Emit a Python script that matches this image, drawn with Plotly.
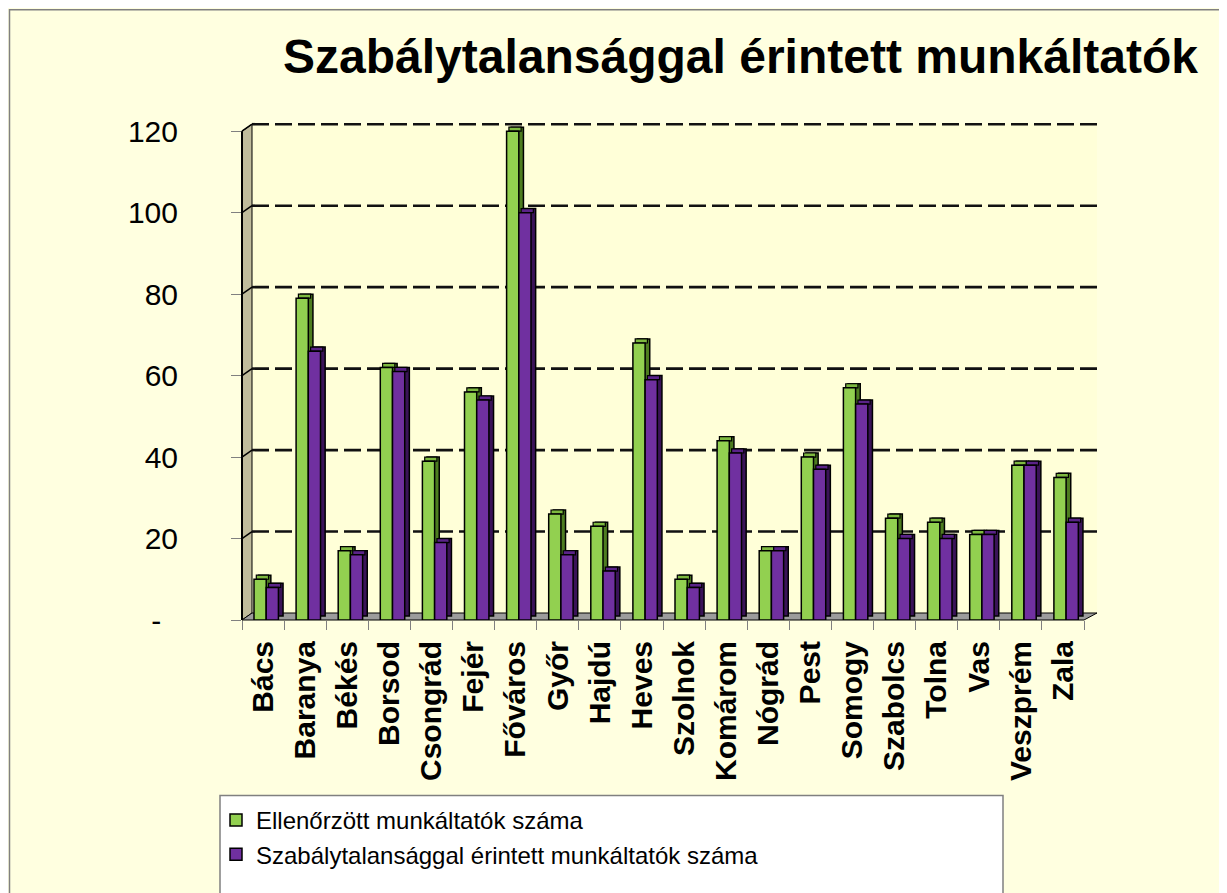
import plotly.graph_objects as go

# ---- data ----
categories = ["Bács", "Baranya", "Békés", "Borsod", "Csongrád", "Fejér", "Főváros",
              "Győr", "Hajdú", "Heves", "Szolnok", "Komárom", "Nógrád", "Pest",
              "Somogy", "Szabolcs", "Tolna", "Vas", "Veszprém", "Zala"]
ellenorzott = [10, 79, 17, 62, 39, 56, 120, 26, 23, 68, 10, 44, 17, 40, 57, 25, 24, 21, 38, 35]
szabalytalan = [8, 66, 16, 61, 19, 54, 100, 16, 12, 59, 8, 41, 17, 37, 53, 20, 20, 21, 38, 24]
series_names = ["Ellenőrzött munkáltatók száma", "Szabálytalansággal érintett munkáltatók száma"]
y_tickvals = [0, 20, 40, 60, 80, 100, 120]
y_ticktext = ["-\u00a0\u00a0", "20", "40", "60", "80", "100", "120"]
title_text = "Szabálytalansággal érintett munkáltatók"

# ---- geometry (pixels, relative to the figure) ----
W_FIG, H_FIG = 1227, 893
L, R, T, B = 234, 1076, 123, 612     # T = pixel of the value Y_MAX
Y_MAX = 120
Y_TOP = 123                           # axis range top (room for the 3D bar tops)
PH = B - T
PW = R - L
T_AREA = B - Y_TOP / Y_MAX * PH       # top of plotting area in pixels
PH_AREA = B - T_AREA
DX_WALL, DY_WALL = 10, 7
DX_RIGHT = 13


def px(x):
    return (x - L) / PW


def py(y):
    return (B - y) / PH_AREA


def val_to_py(v):
    return B - v / Y_MAX * PH


GREEN, GREEN_SIDE, GREEN_TOP = "#92D050", "#4E7D20", "#7DB93F"
PURPLE, PURPLE_SIDE, PURPLE_TOP = "#7030A0", "#3A1358", "#5A2388"
FONT = "Arial, Liberation Sans, sans-serif"

bar_w = 0.29
dx = 0.11
dz = 1.0
offs = [-0.215, 0.075]

fig = go.Figure()
for vals, name, col, scol, tcol, off in [
        (ellenorzott, series_names[0], GREEN, GREEN_SIDE, GREEN_TOP, offs[0]),
        (szabalytalan, series_names[1], PURPLE, PURPLE_SIDE, PURPLE_TOP, offs[1])]:
    fig.add_trace(go.Bar(x=categories, y=vals, base=[dz] * len(vals), offset=off + dx, width=bar_w,
                         marker=dict(color=scol, line=dict(color="black", width=1.5)),
                         showlegend=False, hoverinfo="skip"))
    fig.add_trace(go.Bar(x=categories, y=[dz] * len(vals), base=vals, offset=off + dx * 0.5, width=bar_w,
                         marker=dict(color=tcol, line=dict(color="black", width=1.2)),
                         showlegend=False, hoverinfo="skip"))
    fig.add_trace(go.Bar(x=categories, y=vals, name=name, offset=off, width=bar_w,
                         marker=dict(color=col, line=dict(color="black", width=1.5))))

shapes = []
# outer frame
shapes.append(dict(type="rect", xref="paper", yref="paper", x0=px(1.5), y0=py(1.5), x1=px(1260), y1=py(920),
                   fillcolor="#FFFFE0", line=dict(color="#808080", width=1.5), layer="below"))
# back wall
shapes.append(dict(type="rect", xref="paper", yref="paper", x0=px(L + DX_WALL), x1=px(R + DX_RIGHT),
                   y0=py(B - DY_WALL), y1=py(T - DY_WALL), fillcolor="#FFFFD8", line=dict(width=0), layer="below"))
# left wall
shapes.append(dict(type="path", xref="paper", yref="paper",
                   path=f"M {px(L)},{py(B)} L {px(L)},{py(T)} L {px(L + DX_WALL)},{py(T - DY_WALL)} "
                        f"L {px(L + DX_WALL)},{py(B - DY_WALL)} Z",
                   fillcolor="#C0BC9C", line=dict(color="black", width=1), layer="below"))
# front axis line
shapes.append(dict(type="line", xref="paper", yref="paper", x0=px(L), x1=px(L), y0=py(B), y1=py(T),
                   line=dict(color="black", width=2), layer="below"))
# floor
shapes.append(dict(type="path", xref="paper", yref="paper",
                   path=f"M {px(L)},{py(B)} L {px(R)},{py(B)} L {px(R + DX_RIGHT)},{py(B - DY_WALL)} "
                        f"L {px(L + DX_WALL)},{py(B - DY_WALL)} Z",
                   fillcolor="#9C9C9C", line=dict(color="black", width=1), layer="below"))
# gridlines on back wall
for v in y_tickvals[1:]:
    yp = val_to_py(v)
    shapes.append(dict(type="line", xref="paper", yref="paper",
                       x0=px(L + DX_WALL), x1=px(R + DX_RIGHT), y0=py(yp - DY_WALL), y1=py(yp - DY_WALL),
                       line=dict(color="#111111", width=2.6, dash="17px,6px"), layer="below"))
    shapes.append(dict(type="line", xref="paper", yref="paper",
                       x0=px(L), x1=px(L + DX_WALL), y0=py(yp), y1=py(yp - DY_WALL),
                       line=dict(color="black", width=1.5), layer="below"))
# legend box
shapes.append(dict(type="rect", xref="paper", yref="paper", x0=px(212), x1=px(995), y0=py(787.5), y1=py(920),
                   fillcolor="white", line=dict(color="#808080", width=1.5), layer="below"))

fig.update_layout(
    width=W_FIG, height=H_FIG,
    margin=dict(l=L, r=W_FIG - R, t=T_AREA, b=H_FIG - B, pad=0),
    paper_bgcolor="#FFFFE0", plot_bgcolor="rgba(0,0,0,0)",
    barmode="overlay",
    shapes=shapes,
    title=dict(text=title_text, x=275 / W_FIG, xref="container", xanchor="left",
               y=1 - 48 / H_FIG, yref="container", yanchor="middle",
               font=dict(family=FONT, size=48, color="black", weight="bold")),
    legend=dict(x=px(208), y=py(790), xanchor="left", yanchor="top", bgcolor="rgba(0,0,0,0)",
                font=dict(family=FONT, size=24, color="black"), itemwidth=30, tracegroupgap=0),
    showlegend=True,
)
fig.update_xaxes(type="category", categoryorder="array", categoryarray=categories, range=[-0.5, 19.5],
                 showgrid=False, showline=False, ticks="outside", tickson="boundaries", ticklen=9,
                 tickcolor="#808080", tickwidth=1, tickangle=-90, ticklabelstandoff=14,
                 tickfont=dict(family=FONT, size=30, color="black", weight="bold"))
fig.update_yaxes(range=[0, Y_TOP], tickvals=y_tickvals, ticktext=y_ticktext, showgrid=False, zeroline=False,
                 showline=False, ticks="outside", ticklen=10,
                 tickcolor="#808080", tickfont=dict(family=FONT, size=30, color="black"),
                 ticklabelstandoff=47)

fig.write_html("out.html")
